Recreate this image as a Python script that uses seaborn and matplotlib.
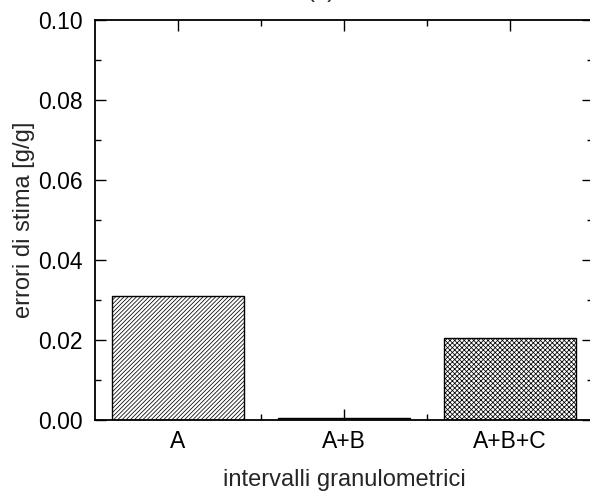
import pandas as pd
import seaborn as sns
import matplotlib.pyplot as plt
from matplotlib.ticker import MultipleLocator, FixedLocator

categories = ["A", "A+B", "A+B+C"]
errors = [0.0311, 0.0004, 0.0205]
hatches = ["/" * 8, "\\" * 8, "x" * 7]

df = pd.DataFrame({"intervallo": categories, "errore": errors})

sns.set_theme(style="ticks")
plt.rcParams["font.family"] = ["Liberation Sans", "DejaVu Sans"]
plt.rcParams["hatch.linewidth"] = 0.55

fig = plt.figure(figsize=(5.9, 4.93), dpi=100)
ax = fig.add_axes([95 / 590, 73 / 493, 498 / 590, 400 / 493])

sns.barplot(data=df, x="intervallo", y="errore", color="white",
            edgecolor="black", linewidth=1, width=0.8, ax=ax)
for bar, h in zip(ax.patches, hatches):
    bar.set_hatch(h)
    bar.set_facecolor("white")

ax.set_xlim(-0.5, 2.5)
ax.set_ylim(0, 0.10)
ax.yaxis.set_major_locator(MultipleLocator(0.02))
ax.yaxis.set_minor_locator(MultipleLocator(0.01))
ax.yaxis.set_major_formatter(lambda v, p: f"{v:.2f}")
ax.xaxis.set_minor_locator(FixedLocator([0.5, 1.5]))

ax.tick_params(which="both", direction="in", top=True, right=True,
               labelsize=16.5, colors="black", width=1)
ax.tick_params(which="major", length=8)
ax.tick_params(which="minor", length=4)
ax.tick_params(axis="x", which="major", pad=7)
ax.tick_params(axis="y", which="major", pad=9)
for s in ax.spines.values():
    s.set_linewidth(1.3)
    s.set_color("black")

ax.set_xlabel("intervalli granulometrici", fontsize=17, labelpad=12)
ax.set_ylabel("errori di stima [g/g]", fontsize=17, labelpad=2)

fig.text(321 / 590, 1 + 3 / 493, "(a)", fontsize=17, ha="center", va="baseline")

fig.savefig("out.png", dpi=100)
